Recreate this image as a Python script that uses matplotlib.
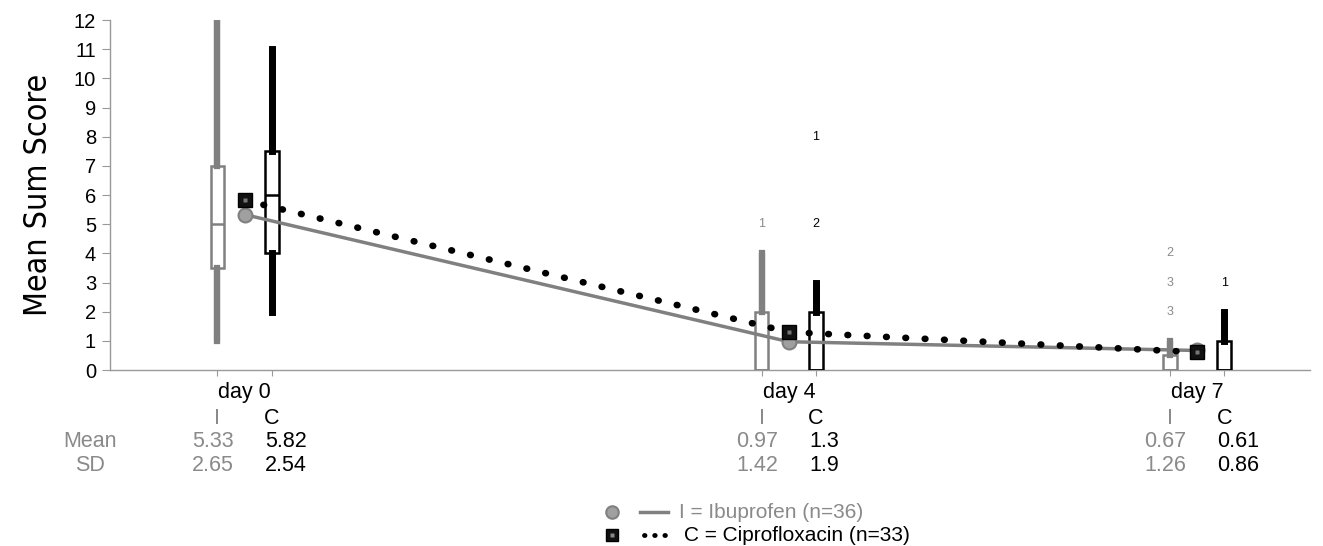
import matplotlib
matplotlib.use("Agg")
import matplotlib.pyplot as plt
from matplotlib import font_manager
from matplotlib.font_manager import FontProperties
from matplotlib.lines import Line2D
from matplotlib.transforms import blended_transform_factory

plt.rcParams['font.family'] = ['Liberation Sans', 'DejaVu Sans']

# days of follow-up and group summary values
days = [0, 4, 7]
day_labels = ["day 0", "day 4", "day 7"]
ibu_mean = [5.33, 0.97, 0.67]
cip_mean = [5.82, 1.3, 0.61]
ibu_sd = [2.65, 1.42, 1.26]
cip_sd = [2.54, 1.9, 0.86]

# boxplot stats: (whislo, q1, med, q3, whishi)
ibu_box = [(1, 3.5, 5, 7, 12), (0, 0, 0, 2, 4), (0, 0, 0, 0.5, 1)]
cip_box = [(2, 4, 6, 7.5, 11), (0, 0, 0, 2, 3), (0, 0, 0, 1, 2)]

# outlier case labels: (day index, value, label)
ibu_out = [(1, 5, "1"), (2, 4, "2"), (2, 3, "3"), (2, 2, "3")]
cip_out = [(1, 5, "2"), (1, 8, "1"), (2, 3, "1")]

GRAY = "#808080"
TGRAY = "#8a8a8a"
off = 0.2

fig = plt.figure(figsize=(13.23, 5.46), dpi=100)
ax = fig.add_axes([0.0831, 0.3223, 0.907, 0.641])


def stats(b):
    lo, q1, med, q3, hi = b
    return dict(whislo=lo, q1=q1, med=med, q3=q3, whishi=hi, fliers=[])


for boxes, sign, col, wl in [(ibu_box, -1, GRAY, 4.5), (cip_box, 1, "black", 5.0)]:
    pos = [d + sign * off for d in days]
    # whisker drawn through the full range, box painted over it
    for p, b in zip(pos, boxes):
        ax.plot([p, p], [b[0], b[4]], color=col, lw=wl, solid_capstyle="butt", zorder=2)
    ax.bxp([stats(b) for b in boxes], positions=pos, widths=0.1, patch_artist=True,
           showcaps=False, showfliers=False,
           boxprops=dict(facecolor="white", edgecolor=col, lw=1.8),
           whiskerprops=dict(color=col, lw=wl),
           medianprops=dict(color=col, lw=1.8), manage_ticks=False, zorder=3)

for i, v, s in ibu_out:
    ax.text(days[i] - off, v, s, color=TGRAY, fontsize=9, ha="center", va="center")
for i, v, s in cip_out:
    ax.text(days[i] + off, v, s, color="black", fontsize=9, ha="center", va="center")

# mean profiles
ax.plot(days, ibu_mean, color=GRAY, lw=2.5, zorder=4)
ax.plot(days, cip_mean, color="black", lw=4.8, linestyle=(0, (0.1, 2.8)),
        dash_capstyle="round", zorder=4)
ax.plot(days, ibu_mean, "o", ms=10, mfc="#a0a0a0", mec=GRAY, mew=1.5, zorder=5)
ax.plot(days, cip_mean, "s", ms=10, mfc="#111111", mec="black", zorder=5)
ax.plot(days, cip_mean, "s", ms=3, mfc="#777777", mec="none", zorder=6)

ax.set_xlim(-0.99, 7.83)
ax.set_ylim(0, 12)
ax.set_yticks(range(0, 13))
ax.set_xticks([d + s * off for d in days for s in (-1, 1)])
ax.set_xticklabels([])
ax.tick_params(axis="x", length=4, color="#999999", direction="out")
ax.tick_params(axis="y", length=6, color="#999999", labelsize=14.5, pad=4)
for s in ["top", "right"]:
    ax.spines[s].set_visible(False)
for s in ["left", "bottom"]:
    ax.spines[s].set_color("#999999")
    ax.spines[s].set_linewidth(1)

# narrow face for the axis title when one is installed
narrow = [f for f in font_manager.fontManager.ttflist
          if ("Narrow" in f.name or f.stretch in ("condensed", "semi-condensed"))
          and f.weight in (400, "normal") and f.style == "normal"]
if narrow:
    ylab_fp = FontProperties(fname=narrow[0].fname, size=23)
else:
    ylab_fp = FontProperties(family="Liberation Sans", size=21)
ax.set_ylabel("Mean Sum Score", fontproperties=ylab_fp, labelpad=14)

# summary table under the axis
tr = blended_transform_factory(ax.transData, fig.transFigure)
fs = 15.5
for d, lab, im, cm, isd, csd in zip(days, day_labels, ibu_mean, cip_mean, ibu_sd, cip_sd):
    ax.text(d, 0.282, lab, transform=tr, ha="center", va="center", fontsize=fs, clip_on=False)
    ax.text(d - off, 0.234, "I", transform=tr, ha="center", va="center", fontsize=fs, color=TGRAY)
    ax.text(d + off, 0.234, "C", transform=tr, ha="center", va="center", fontsize=fs)
    ax.text(d - 0.08, 0.192, f"{im:g}", transform=tr, ha="right", va="center", fontsize=fs, color=TGRAY)
    ax.text(d + 0.15, 0.192, f"{cm:g}", transform=tr, ha="left", va="center", fontsize=fs)
    ax.text(d - 0.08, 0.148, f"{isd:g}", transform=tr, ha="right", va="center", fontsize=fs, color=TGRAY)
    ax.text(d + 0.15, 0.148, f"{csd:g}", transform=tr, ha="left", va="center", fontsize=fs)
fig.text(0.068, 0.192, "Mean", ha="center", va="center", fontsize=fs, color=TGRAY)
fig.text(0.068, 0.148, "SD", ha="center", va="center", fontsize=fs, color=TGRAY)

# legend
ft = fig.transFigure
fig.add_artist(Line2D([0.4626], [0.062], marker="o", ms=9, mfc="#a0a0a0", mec=GRAY, mew=1.5, transform=ft))
fig.add_artist(Line2D([0.4837, 0.5049], [0.062, 0.062], color=GRAY, lw=2.5, transform=ft))
fig.add_artist(Line2D([0.4626], [0.020], marker="s", ms=9, mfc="#111111", mec="black", transform=ft))
fig.add_artist(Line2D([0.4626], [0.020], marker="s", ms=3, mfc="#888888", mec="none", transform=ft))
fig.add_artist(Line2D([0.4870, 0.5045], [0.020, 0.020], color="black", lw=3.5, linestyle=(0, (0.1, 2.0)),
                      dash_capstyle="round", transform=ft))
fig.text(0.513, 0.062, "I = Ibuprofen (n=36)", va="center", fontsize=15, color=TGRAY)
fig.text(0.517, 0.020, "C = Ciprofloxacin (n=33)", va="center", fontsize=15)

fig.savefig("out.png", dpi=100, facecolor="white")
